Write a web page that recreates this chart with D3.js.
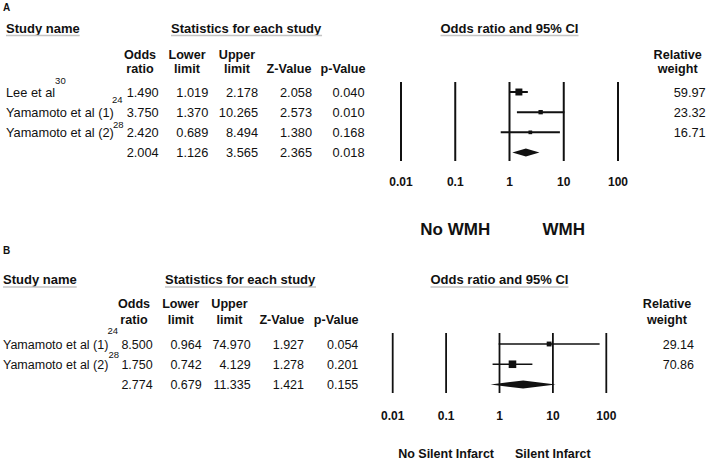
<!DOCTYPE html>
<html><head><meta charset="utf-8">
<script src="https://cdn.jsdelivr.net/npm/d3@7"></script>
<style>
body{margin:0;background:#fff}
svg{display:block}
text{font-family:"Liberation Sans",Arial,Helvetica,sans-serif;fill:#111}
</style>
</head><body>
<script>
// ---------- data ----------
const studiesA = ["Lee et al", "Yamamoto et al (1)", "Yamamoto et al (2)", ""];
const refsA = ["30", "24", "28", ""];
const oddsA = [1.490, 3.750, 2.420, 2.004];
const lowerA = [1.019, 1.370, 0.689, 1.126];
const upperA = [2.178, 10.265, 8.494, 3.565];
const zA = [2.058, 2.573, 1.380, 2.365];
const pA = [0.040, 0.010, 0.168, 0.018];
const weightA = [59.97, 23.32, 16.71];

const studiesB = ["Yamamoto et al (1)", "Yamamoto et al (2)", ""];
const refsB = ["24", "28", ""];
const oddsB = [8.500, 1.750, 2.774];
const lowerB = [0.964, 0.742, 0.679];
const upperB = [74.970, 4.129, 11.335];
const zB = [1.927, 1.278, 1.421];
const pB = [0.054, 0.201, 0.155];
const weightB = [29.14, 70.86];

const tickValues = [0.01, 0.1, 1, 10, 100];
const tickLabels = ["0.01", "0.1", "1", "10", "100"];
const colHeaders = [["Odds", "ratio"], ["Lower", "limit"], ["Upper", "limit"], ["", "Z-Value"], ["", "p-Value"]];
const weightHeader = ["Relative", "weight"];
const favourA = ["No WMH", "WMH"];
const favourB = ["No Silent Infarct", "Silent Infarct"];

// ---------- layout ----------
const layoutA = {
  label: "A", labelX: 3, labelY: 10.5,
  titleY: 32.5, underlineY: 35.5, studyX: 6, statsX: 171,
  headY: [58.5, 72.5], headCx: [140, 187, 237, 289, 343], colRight: [158.7, 208.3, 258, 312, 364.5],
  rowRange: [92, 152.5], supDy: [-12.5, -13.4, -9], supDx: [0, -2, -1],
  xRange: [401, 618], vTop: 82, vBottom: 161, ciWidth: 2, vWidth: 2,
  weightCx: 677.7, weightRight: 705.7, tickY: 186,
  favourY: 235, favourSize: 17, bodySize: 12.8
};
const layoutB = {
  label: "B", labelX: 3, labelY: 253.5,
  titleY: 283.5, underlineY: 287, studyX: 3, statsX: 165,
  headY: [308.3, 324], headCx: [134, 180.7, 229.5, 281.8, 336.2], colRight: [152.7, 201.7, 250.7, 304, 358.3],
  rowRange: [344, 384.5], supDy: [-15, -11], supDx: [-1, 0],
  xRange: [392.7, 606.3], vTop: 333, vBottom: 393, ciWidth: 1.6, vWidth: 1.8,
  weightCx: 667, weightRight: 694, tickY: 420,
  favourY: 458.3, favourSize: 12.5, bodySize: 12.5
};

const svg = d3.select("body").append("svg").attr("width", 709).attr("height", 461);

function drawPanel(L, d) {
  const g = svg.append("g");
  const f3 = d3.format(".3f"), f2 = d3.format(".2f");
  const n = d.studies.length;
  const y = d3.scalePoint().domain(d3.range(n)).range(L.rowRange);
  const x = d3.scaleLog().domain([0.01, 100]).range(L.xRange);
  const size = d3.scaleSqrt().domain([0, 100]).range([0, 9]);

  g.append("text").attr("x", L.labelX).attr("y", L.labelY).attr("font-size", 10).attr("font-weight", "bold").text(L.label);

  // section titles with grey underlines
  const titles = [
    {t: "Study name", x: L.studyX, anchor: "start"},
    {t: "Statistics for each study", x: L.statsX, anchor: "start"},
    {t: "Odds ratio and 95% CI", x: x(1), anchor: "middle"}
  ];
  titles.forEach(o => {
    const t = g.append("text").attr("x", o.x).attr("y", L.titleY).attr("text-anchor", o.anchor)
      .attr("font-size", 13).attr("font-weight", "bold").text(o.t);
    const b = t.node().getBBox();
    g.append("line").attr("x1", b.x).attr("x2", b.x + b.width).attr("y1", L.underlineY).attr("y2", L.underlineY)
      .attr("stroke", "#c4c4c4").attr("stroke-width", 1.3);
  });

  // column headers
  colHeaders.forEach((h, i) => {
    h.forEach((line, j) => {
      if (!line) return;
      g.append("text").attr("x", L.headCx[i]).attr("y", L.headY[j]).attr("text-anchor", "middle")
        .attr("font-size", 12.6).attr("font-weight", "bold").text(line);
    });
  });
  weightHeader.forEach((line, j) => {
    g.append("text").attr("x", L.weightCx).attr("y", L.headY[j]).attr("text-anchor", "middle")
      .attr("font-size", 12.6).attr("font-weight", "bold").text(line);
  });

  // rows
  const cols = [d.odds, d.lower, d.upper, d.z, d.p];
  d.studies.forEach((s, i) => {
    const by = y(i) + 4.5;
    if (s) {
      const t = g.append("text").attr("x", L.studyX).attr("y", by).attr("font-size", L.bodySize).text(s);
      const w = t.node().getComputedTextLength();
      g.append("text").attr("x", L.studyX + w + L.supDx[i]).attr("y", by + L.supDy[i])
        .attr("font-size", 9.5).text(d.refs[i]);
    }
    cols.forEach((c, k) => {
      g.append("text").attr("x", L.colRight[k]).attr("y", by).attr("text-anchor", "end")
        .attr("font-size", L.bodySize).text(f3(c[i]));
    });
    if (i < d.weights.length) {
      g.append("text").attr("x", L.weightRight).attr("y", by).attr("text-anchor", "end")
        .attr("font-size", L.bodySize).text(f2(d.weights[i]));
    }
  });

  // vertical reference lines
  g.selectAll(null).data(tickValues).enter().append("line")
    .attr("x1", v => x(v)).attr("x2", v => x(v)).attr("y1", L.vTop).attr("y2", L.vBottom)
    .attr("stroke", "#111").attr("stroke-width", L.vWidth);
  g.selectAll(null).data(tickValues).enter().append("text")
    .attr("x", v => x(v)).attr("y", L.tickY).attr("text-anchor", "middle")
    .attr("font-size", 12).attr("font-weight", "bold").text((v, i) => tickLabels[i]);

  // CI lines and squares
  d.weights.forEach((w, i) => {
    g.append("line").attr("x1", x(d.lower[i])).attr("x2", x(d.upper[i])).attr("y1", y(i)).attr("y2", y(i))
      .attr("stroke", "#111").attr("stroke-width", L.ciWidth);
    const s = size(w);
    g.append("rect").attr("x", x(d.odds[i]) - s / 2).attr("y", y(i) - s / 2).attr("width", s).attr("height", s)
      .attr("fill", "#111");
  });
  // summary diamond
  const si = n - 1, cy = y(si), hh = 4;
  g.append("path").attr("d", `M${x(d.lower[si])},${cy}L${x(d.odds[si])},${cy - hh}L${x(d.upper[si])},${cy}L${x(d.odds[si])},${cy + hh}Z`)
    .attr("fill", "#111");

  // favour labels
  [0.1, 10].forEach((v, i) => {
    g.append("text").attr("x", x(v)).attr("y", L.favourY).attr("text-anchor", "middle")
      .attr("font-size", L.favourSize).attr("font-weight", "bold").text(d.favour[i]);
  });
}

drawPanel(layoutA, {studies: studiesA, refs: refsA, odds: oddsA, lower: lowerA, upper: upperA, z: zA, p: pA, weights: weightA, favour: favourA});
drawPanel(layoutB, {studies: studiesB, refs: refsB, odds: oddsB, lower: lowerB, upper: upperB, z: zB, p: pB, weights: weightB, favour: favourB});
</script>
</body></html>
